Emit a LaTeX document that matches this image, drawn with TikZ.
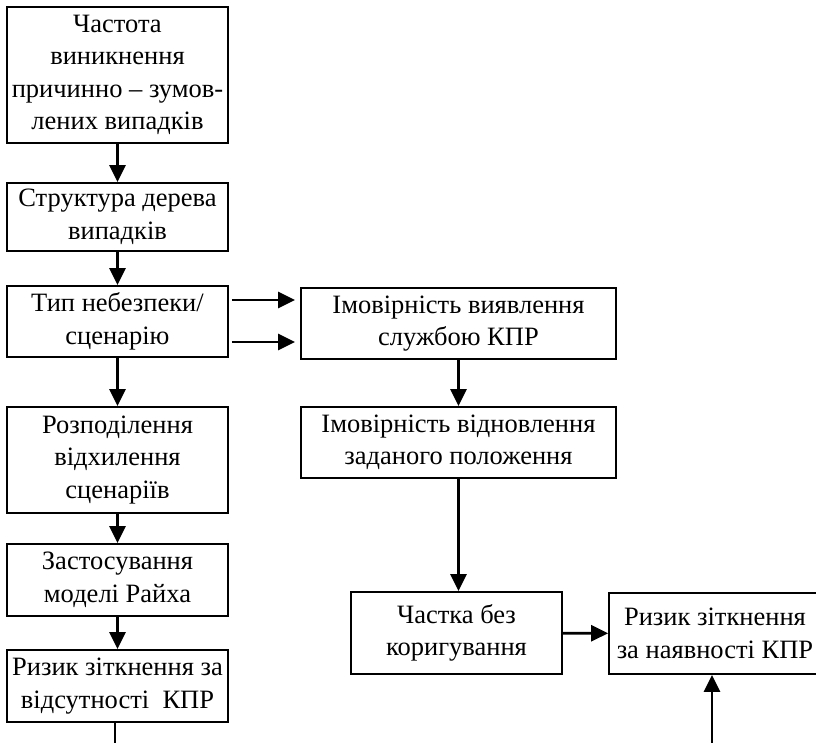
\documentclass[tikz,border=0pt]{standalone}
\usepackage{fontspec}
\setmainfont{Liberation Serif}
\usetikzlibrary{arrows.meta}
\begin{document}
\begin{tikzpicture}[x=1pt,y=-1pt,
  box/.style={draw, line width=1.8pt, align=center, inner sep=0pt,
    font=\fontsize{26.5}{32.5}\selectfont},
  arr/.style={line width=2.6pt, -{Triangle[length=17pt,width=16pt]}},
  plain/.style={line width=2.6pt},
]
\clip (0,0) rectangle (816,742);
% left column
\node[box, minimum width=221pt, minimum height=136pt] (b1) at (117.5,75)
  {Частота\\виникнення\\причинно – зумов-\\лених випадків};
\node[box, minimum width=221pt, minimum height=68pt] (b2) at (117.5,217)
  {Структура дерева\\випадків};
\node[box, minimum width=221pt, minimum height=71pt] (b3) at (117.5,321.5)
  {Тип небезпеки/\\сценарію};
\node[box, minimum width=221pt, minimum height=106pt] (b5) at (117.5,460)
  {Розподілення\\відхилення\\сценаріїв};
\node[box, minimum width=221pt, minimum height=72pt] (b7) at (117.5,580)
  {Застосування\\моделі Райха};
\node[box, minimum width=221pt, minimum height=72pt] (b10) at (117.5,686)
  {Ризик зіткнення за\\відсутності\ \ КПР};
% right part
\node[box, minimum width=315pt, minimum height=71pt] (b4) at (458.5,323.5)
  {Імовірність виявлення\\службою КПР};
\node[box, minimum width=315pt, minimum height=71pt] (b6) at (458.5,442.5)
  {Імовірність відновлення\\заданого положення};
\node[box, minimum width=211pt, minimum height=82pt] (b8) at (456.5,633)
  {Частка без\\коригування};
\node[box, minimum width=212pt, minimum height=81pt] (b9) at (715,633.5)
  {Ризик зіткнення\\за наявності КПР};
% connectors
\draw[arr] (b1) -- (b2);
\draw[arr] (b2) -- (b3);
\draw[arr] (b3) -- (b5);
\draw[arr] (b5) -- (b7);
\draw[arr] (b7) -- (b10);
\draw[arr, shorten <=3pt, shorten >=5pt] ([yshift=21.5pt]b3.east) -- ([yshift=21.5pt]b3.east -| b4.west);
\draw[arr, shorten <=3pt, shorten >=5pt] ([yshift=-20.5pt]b3.east) -- ([yshift=-20.5pt]b3.east -| b4.west);
\draw[arr] (b4) -- (b6);
\draw[arr] (b6.south) -- (b6.south |- b8.north);
\draw[arr] (b8) -- (b9);
\coordinate (e1) at (115,746);
\coordinate (e2) at (712,746);
\draw[plain] (e1 |- b10.south) -- (e1);
\draw[arr] (e2) -- (e2 |- b9.south);
\end{tikzpicture}
\end{document}
